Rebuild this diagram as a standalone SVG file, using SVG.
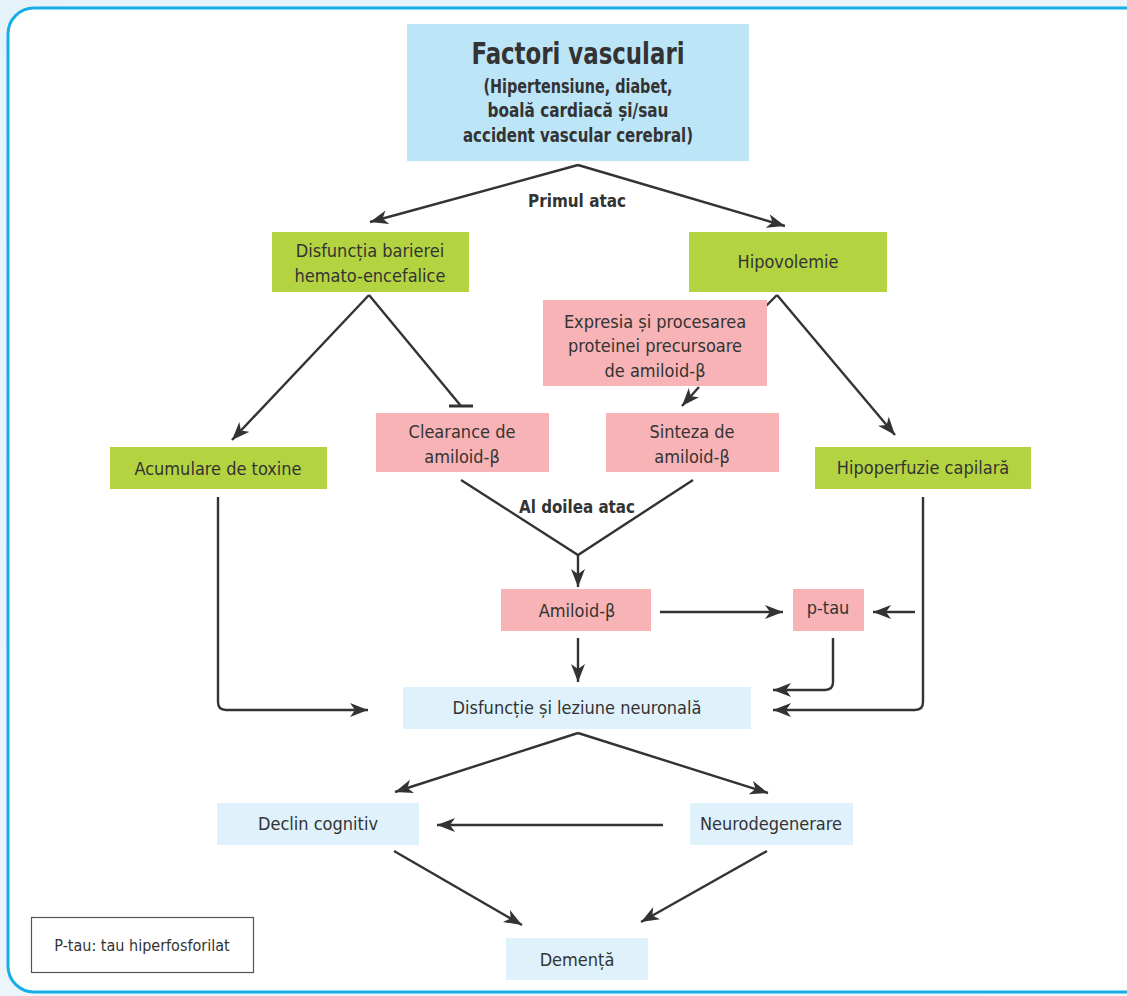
<svg xmlns="http://www.w3.org/2000/svg" width="1127" height="996" viewBox="0 0 1127 996">
  <defs>
    <linearGradient id="bg" x1="0" y1="0" x2="1" y2="1">
      <stop offset="0" stop-color="#e6f2f9"/>
      <stop offset="1" stop-color="#f1f7fb"/>
    </linearGradient>
    <marker id="arr" markerUnits="userSpaceOnUse" markerWidth="20" markerHeight="16" refX="18" refY="7" orient="auto">
      <path d="M0,0 L18,7 L0,14 L5,7 z" fill="#333"/>
    </marker>
    <marker id="bar" markerUnits="userSpaceOnUse" markerWidth="24" markerHeight="6" refX="12" refY="3" orient="0">
      <rect x="0" y="1.5" width="24" height="3" fill="#333"/>
    </marker>
  </defs>
  <style>
    .t { font-family: "Liberation Sans Narrow", "DejaVu Sans Condensed", "Liberation Sans", sans-serif; fill: #333; text-anchor: middle; font-size: 18px; }
    .b { font-weight: bold; }
    .green { fill: #b3d341; }
    .pink { fill: #f7b3b5; }
    .blue { fill: #bde5f8; }
    .pale { fill: #dff1fb; }
    .ln { fill: none; stroke: #333; stroke-width: 2.4; }
    .ar { marker-end: url(#arr); }
  </style>

  <!-- page background and frame -->
  <rect x="0" y="0" width="1127" height="996" fill="url(#bg)"/>
  <rect x="8" y="8" width="1145" height="984" rx="26" ry="26" fill="#ffffff" stroke="#17aee8" stroke-width="3"/>

  <!-- connectors -->
  <g id="connectors">
    <path class="ln ar" d="M578,165 L370,222"/>
    <path class="ln ar" d="M578,165 L785,226"/>
    <path class="ln ar" d="M369,295 L232,440"/>
    <path class="ln" d="M369,295 L461,406" marker-end="url(#bar)"/>
    <path class="ln" d="M777,295 L765,307"/>
    <path class="ln ar" d="M777,295 L895,435"/>
    <path class="ln ar" d="M699,387 L682,406"/>
    <path class="ln" d="M461,480 L578,555 L693,480"/>
    <path class="ln ar" d="M578,555 L578,587"/>
    <path class="ln ar" d="M660,612 L783,612"/>
    <path class="ln ar" d="M915,612 L873,612"/>
    <path class="ln ar" d="M578,638 L578,682"/>
    <path class="ln ar" d="M833,638 L833,682 Q833,690 825,690 L773,690"/>
    <path class="ln ar" d="M923,497 L923,702 Q923,710 915,710 L773,710"/>
    <path class="ln ar" d="M218,497 L218,702 Q218,710 226,710 L368,710"/>
    <path class="ln ar" d="M578,733 L395,792"/>
    <path class="ln ar" d="M578,733 L768,793"/>
    <path class="ln ar" d="M663,825 L437,825"/>
    <path class="ln ar" d="M394,851 L522,925"/>
    <path class="ln ar" d="M767,851 L641,922"/>
    <text class="t b" x="577" y="207" textLength="98" lengthAdjust="spacingAndGlyphs">Primul atac</text>
    <text class="t b" x="577" y="513" textLength="116" lengthAdjust="spacingAndGlyphs">Al doilea atac</text>
  </g>

  <g id="factori">
    <rect class="blue" x="407" y="24" width="342" height="137"/>
    <text class="t b" x="578" y="64" style="font-size:31px" textLength="213" lengthAdjust="spacingAndGlyphs">Factori vasculari</text>
    <text class="t b" x="578" y="93" style="font-size:19px" textLength="189" lengthAdjust="spacingAndGlyphs">(Hipertensiune, diabet,</text>
    <text class="t b" x="578" y="117" style="font-size:19px" textLength="181" lengthAdjust="spacingAndGlyphs">boală cardiacă și/sau</text>
    <text class="t b" x="578" y="142" style="font-size:19px" textLength="230" lengthAdjust="spacingAndGlyphs">accident vascular cerebral)</text>
  </g>

  <g id="disfunctia-barierei">
    <rect class="green" x="272" y="232" width="197" height="60"/>
    <text class="t" x="370" y="257">Disfuncția barierei</text>
    <text class="t" x="370" y="282">hemato-encefalice</text>
  </g>

  <g id="hipovolemie">
    <rect class="green" x="689" y="232" width="198" height="60"/>
    <text class="t" x="788" y="268">Hipovolemie</text>
  </g>

  <g id="expresia">
    <rect class="pink" x="543" y="300" width="224" height="86"/>
    <text class="t" x="655" y="328">Expresia și procesarea</text>
    <text class="t" x="655" y="352">proteinei precursoare</text>
    <text class="t" x="655" y="377">de amiloid-β</text>
  </g>

  <g id="clearance">
    <rect class="pink" x="376" y="413" width="173" height="59"/>
    <text class="t" x="462" y="438">Clearance de</text>
    <text class="t" x="462" y="463">amiloid-β</text>
  </g>

  <g id="sinteza">
    <rect class="pink" x="606" y="413" width="173" height="59"/>
    <text class="t" x="692" y="438">Sinteza de</text>
    <text class="t" x="692" y="463">amiloid-β</text>
  </g>

  <g id="acumulare">
    <rect class="green" x="110" y="447" width="217" height="42"/>
    <text class="t" x="218" y="475">Acumulare de toxine</text>
  </g>

  <g id="hipoperfuzie">
    <rect class="green" x="815" y="447" width="216" height="42"/>
    <text class="t" x="923" y="474">Hipoperfuzie capilară</text>
  </g>

  <g id="amiloid">
    <rect class="pink" x="501" y="589" width="150" height="42"/>
    <text class="t" x="577" y="617">Amiloid-β</text>
  </g>

  <g id="ptau">
    <rect class="pink" x="793" y="589" width="71" height="42"/>
    <text class="t" x="828" y="614">p-tau</text>
  </g>

  <g id="disfunctie-neuronala">
    <rect class="pale" x="403" y="687" width="348" height="42"/>
    <text class="t" x="577" y="714">Disfuncție și leziune neuronală</text>
  </g>

  <g id="declin">
    <rect class="pale" x="217" y="803" width="202" height="42"/>
    <text class="t" x="318" y="830">Declin cognitiv</text>
  </g>

  <g id="neurodegenerare">
    <rect class="pale" x="690" y="803" width="163" height="42"/>
    <text class="t" x="771" y="830">Neurodegenerare</text>
  </g>

  <g id="dementa">
    <rect class="pale" x="506" y="938" width="142" height="42"/>
    <text class="t" x="577" y="966">Demență</text>
  </g>

  <g id="legenda">
    <rect x="31.5" y="917.5" width="222" height="55" fill="#ffffff" stroke="#555" stroke-width="1.2"/>
    <text class="t" x="142" y="951" style="font-size:16px">P-tau: tau hiperfosforilat</text>
  </g>
</svg>
